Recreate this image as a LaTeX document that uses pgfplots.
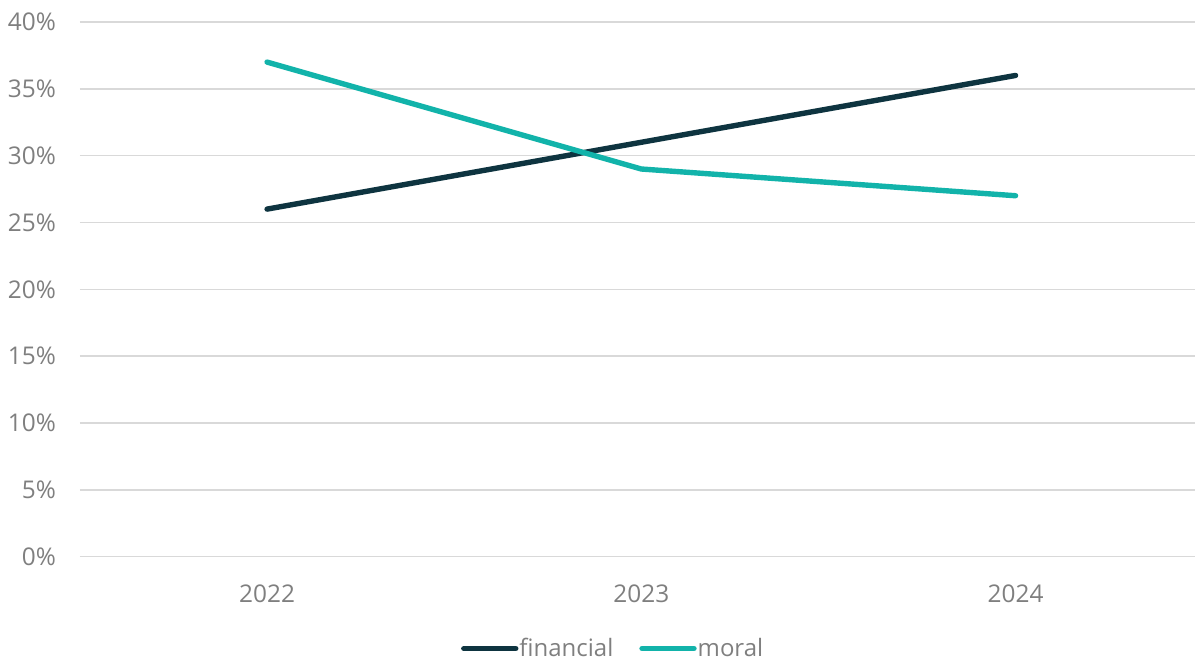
\documentclass[border=0pt]{standalone}
\usepackage{pgfplots}
\pgfplotsset{compat=1.18}
\usepackage{fontspec}
\setmainfont{Open Sans}
\definecolor{finc}{HTML}{0E3440}
\definecolor{morc}{HTML}{12B3AA}
\definecolor{gridc}{HTML}{D9D9D9}
\definecolor{txtc}{HTML}{7F7F7F}
\begin{document}
\begin{tikzpicture}
\begin{axis}[
  at={(0,0)}, anchor=south west,
  scale only axis,
  width=558pt, height=267.5pt,
  xmin=-0.5, xmax=2.48,
  ymin=0, ymax=40,
  xtick={0,1,2},
  xticklabels={2022,2023,2024},
  ytick={0,5,...,40},
  yticklabel={\pgfmathprintnumber{\tick}\%},
  /pgf/number format/assume math mode=true,
  ymajorgrids,
  grid style={gridc, line width=0.8pt},
  axis line style={draw=none},
  major tick length=0pt,
  tick label style={font=\fontsize{12.2pt}{14pt}\selectfont, text=txtc},
  yticklabel style={xshift=-8.5pt},
  xticklabel style={yshift=-10.5pt},
  clip=false,
  legend style={
    at={(0.479,-0.172)}, anchor=center,
    draw=none, fill=none,
    font=\fontsize{12pt}{14pt}\selectfont, text=txtc,
    legend columns=2,
    /tikz/every even column/.append style={column sep=11pt},
    /tikz/every odd column/.append style={column sep=-1.5pt},
    inner sep=0pt,
  },
  legend cell align=left,
  legend image code/.code={\draw[#1, line cap=round] (0pt,0pt) -- (26pt,0pt);},
]
\addplot[finc, line width=2.7pt, line cap=round, line join=round] coordinates {(0,26) (1,31) (2,36)};
\addlegendentry{financial}
\addplot[morc, line width=2.7pt, line cap=round, line join=round] coordinates {(0,37) (1,29) (2,27)};
\addlegendentry{moral}
\end{axis}
\path[use as bounding box] (-40pt,-52.5pt) rectangle (558pt,278.5pt);
\end{tikzpicture}
\end{document}
